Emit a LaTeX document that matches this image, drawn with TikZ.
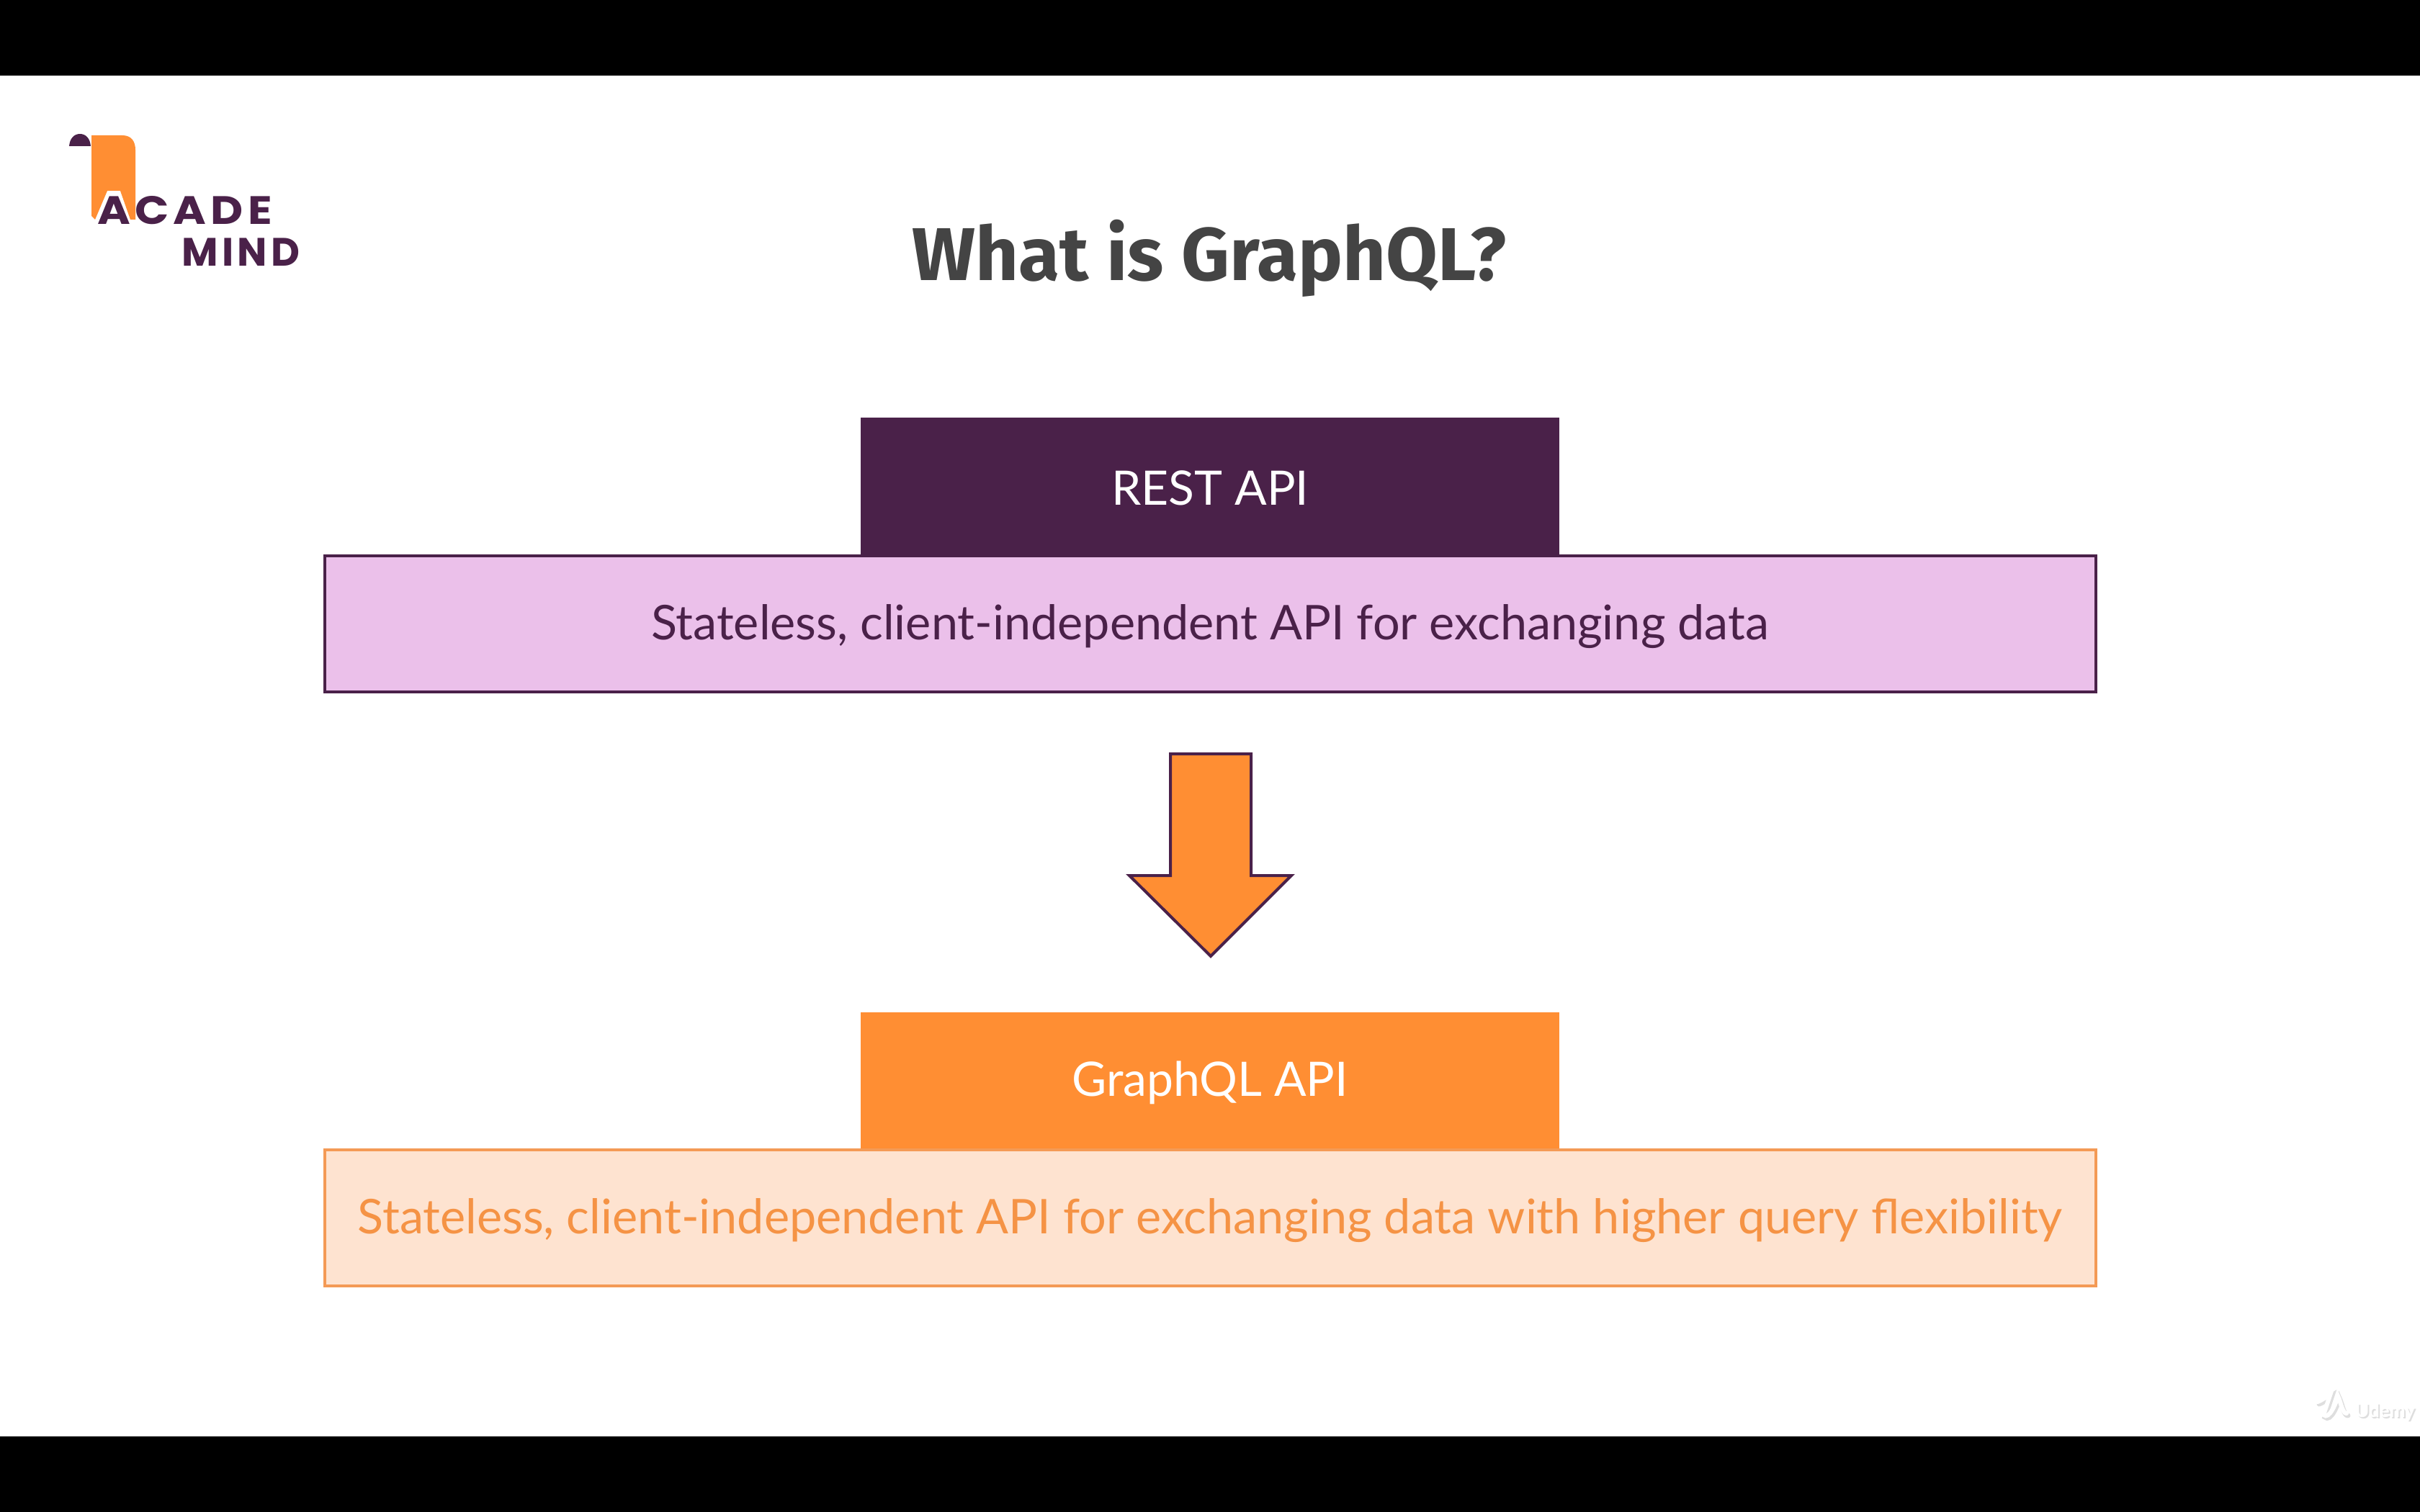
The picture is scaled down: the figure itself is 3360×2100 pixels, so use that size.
\documentclass[tikz,border=0pt]{standalone}
\usepackage{fontspec}
\setmainfont{Lato}
\newfontfamily\titlefont{Fira Sans}
\newfontfamily\logofont[LetterSpace=10]{Poppins}
\definecolor{plum}{HTML}{4A2149}
\definecolor{pinkfill}{HTML}{EBC0EA}
\definecolor{orangefill}{HTML}{FF8E33}
\definecolor{peachfill}{HTML}{FEE3D0}
\definecolor{orangeline}{HTML}{F49A55}
\definecolor{orangetext}{HTML}{F59345}
\definecolor{titlegray}{HTML}{444444}
\definecolor{wmshadow}{HTML}{DEDEDE}
\tikzset{
  x=1pt,y=-1pt,
  band/.style={rectangle,inner sep=0pt,outer sep=0pt,line width=0pt,anchor=center,minimum width=970pt,minimum height=190pt},
  headlabel/.style={font=\fontsize{66}{74}\selectfont,text=white,inner sep=0pt},
  descbox/.style={rectangle,inner sep=0pt,outer sep=0pt,anchor=center,minimum width=2459pt,minimum height=189pt,line width=4pt},
  desctext/.style={font=\fontsize{66.5}{74}\selectfont},
  barfill/.style={fill=black,draw=none},
  flow/.style={fill=orangefill,draw=plum,line width=4pt,line join=miter},
  logotext/.style={font=\logofont\bfseries\fontsize{55}{60}\selectfont,text=plum,inner sep=0pt,anchor=base west},
  wmtext/.style={font=\bfseries\fontsize{26}{30}\selectfont,inner sep=0pt,anchor=base west}
}
\begin{document}
\begin{tikzpicture}
\useasboundingbox (0,0) rectangle (3360,2100);
\fill[white] (0,0) rectangle (3360,2100);
\fill[barfill] (0,0) rectangle (3360,105);
\fill[barfill] (0,1995) rectangle (3360,2100);
% logo
\fill[orangefill] (127,188) -- (170,188) .. controls (182,188) and (188,196) .. (188,208) -- (188,305) -- (181,305) -- (167,265) -- (149,265) -- (132,305) -- (127,300) -- cycle;
\fill[plum] (96,203) .. controls (97,192) and (103,186) .. (111,186) .. controls (119,186) and (125,192) .. (126,203) -- cycle;
\node[logotext,xscale=1.13] (acade) at (135,312) {ACADE};
\node[logotext] (mind) at (252,370) {MIND};
% title
\node[font=\titlefont\bfseries\fontsize{104}{114}\selectfont,text=titlegray,inner sep=0pt] (title) at (1679,359) {What is GraphQL?};
% REST
\node[band,fill=plum] (rest) at (1680,675) {};
\node[headlabel] (restname) at (1680,678) {REST API};
\node[descbox,draw=plum,fill=pinkfill] (restdesc) at (1680,866) {};
\node[desctext,text=plum,inner sep=0pt] (restlabel) at (1680,870) {Stateless, client-independent API for exchanging data};
% arrow
\filldraw[flow] (1625,1047) -- (1737,1047) -- (1737,1216) -- (1793,1216) -- (1681,1328) -- (1568,1216) -- (1625,1216) -- cycle;
% GraphQL
\node[band,fill=orangefill] (gql) at (1680,1501) {};
\node[headlabel] (gqlname) at (1680,1504) {GraphQL API};
\node[descbox,draw=orangeline,fill=peachfill] (gqldesc) at (1680,1691) {};
\node[desctext,text=orangetext,inner sep=0pt] (gqllabel) at (1680,1695) {Stateless, client-independent API for exchanging data with higher query flexibility};
% watermark
\draw[wmshadow,line width=7pt,line cap=round] (3220,1950) .. controls (3232,1945) and (3236,1938) .. (3238,1938) -- (3228,1968) .. controls (3236,1976) and (3246,1950) .. (3248,1942) .. controls (3252,1950) and (3254,1966) .. (3260,1966);
\draw[white,line width=6pt,line cap=round] (3218,1947) .. controls (3230,1942) and (3234,1935) .. (3236,1935) -- (3226,1965) .. controls (3234,1973) and (3244,1947) .. (3246,1939) .. controls (3250,1947) and (3252,1963) .. (3258,1963);
\node[wmtext,text=wmshadow] (wmshadowtext) at (3272,1970) {Udemy};
\node[wmtext,text=white] (wmtext) at (3270,1968) {Udemy};
\end{tikzpicture}
\end{document}
